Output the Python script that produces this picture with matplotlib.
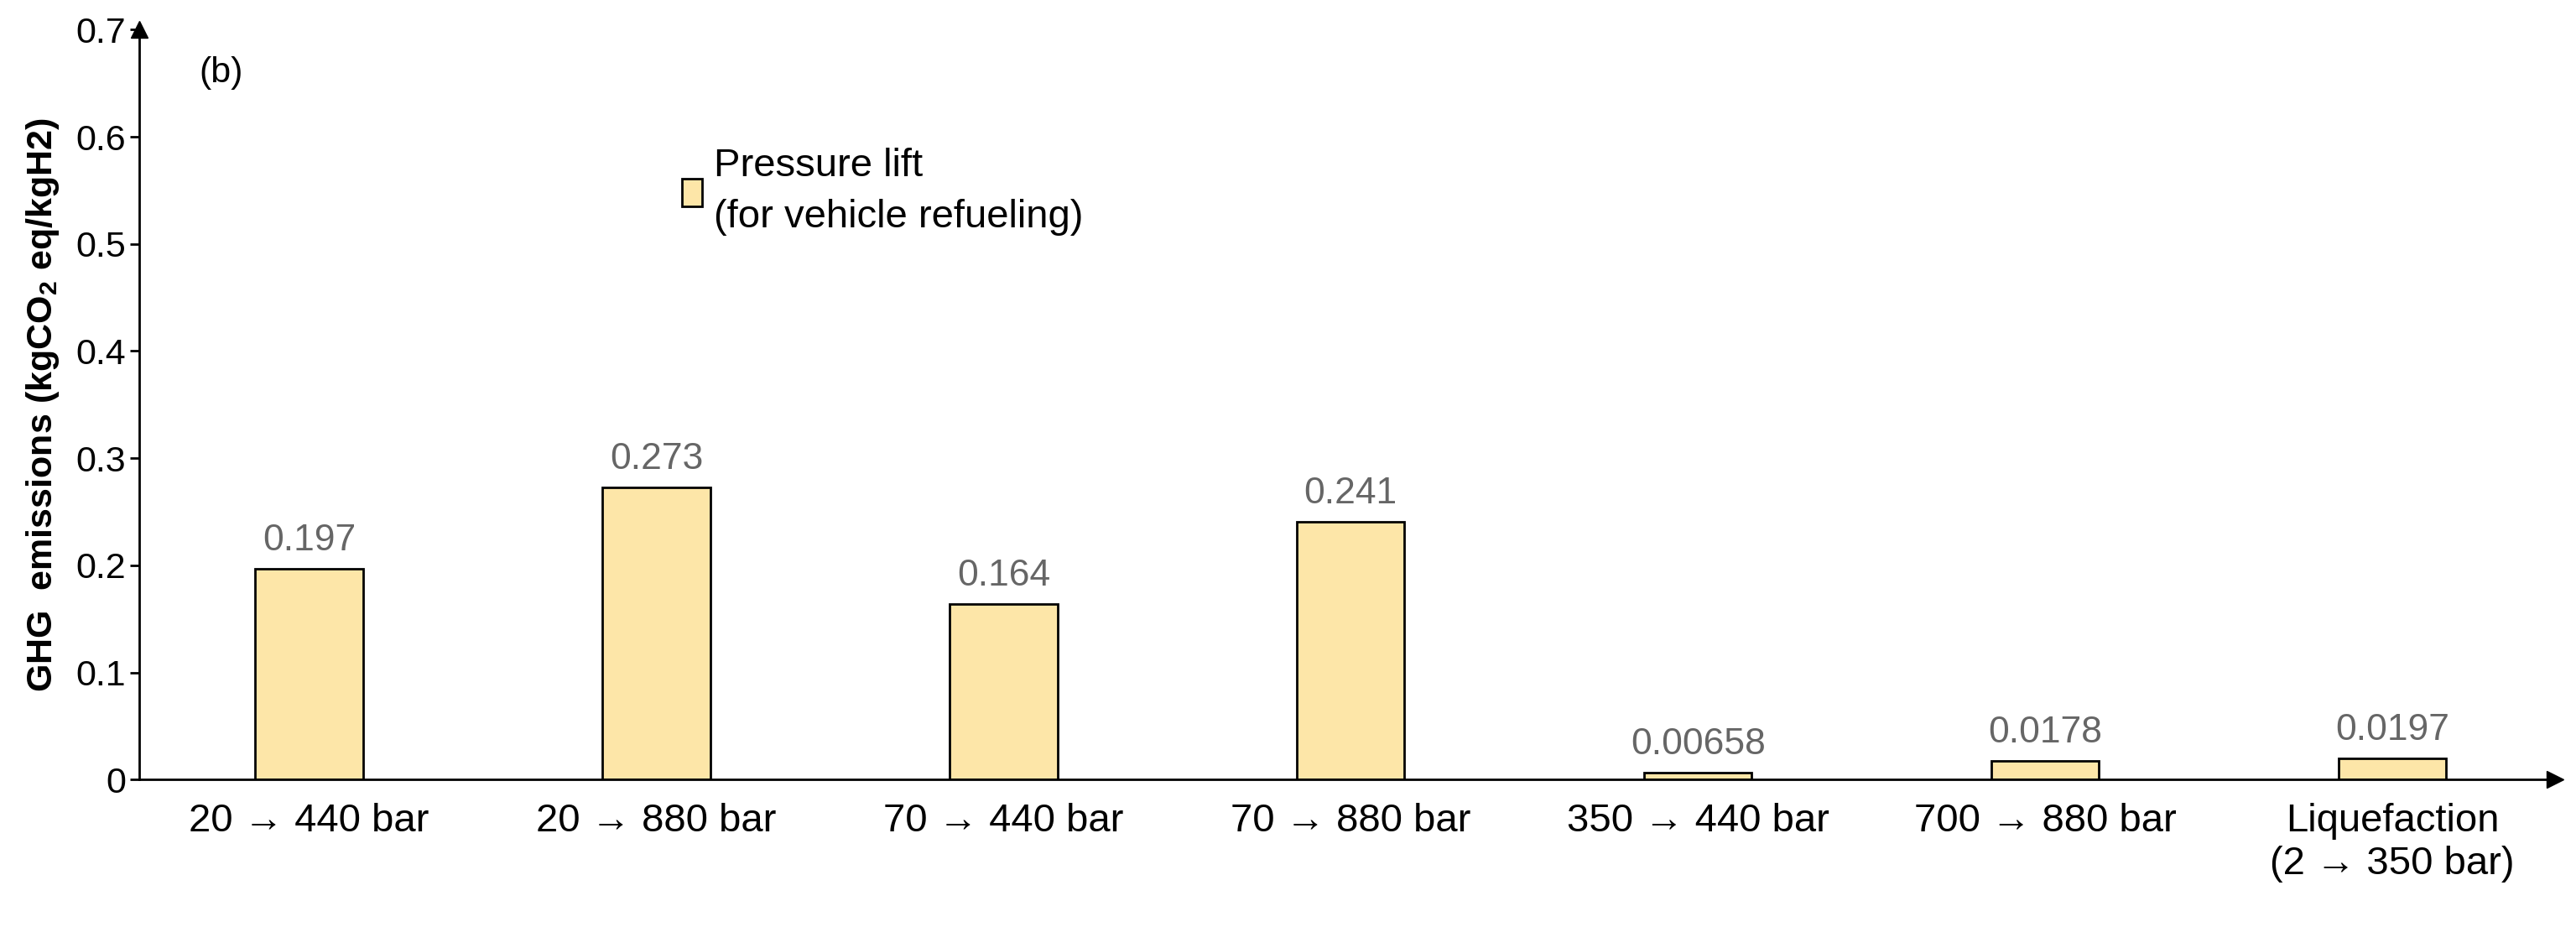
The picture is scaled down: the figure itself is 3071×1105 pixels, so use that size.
import matplotlib.pyplot as plt

plt.rcParams['font.family'] = ['Liberation Sans', 'DejaVu Sans']

categories = ["20 → 440 bar", "20 → 880 bar", "70 → 440 bar", "70 → 880 bar",
              "350 → 440 bar", "700 → 880 bar", "Liquefaction\n(2 → 350 bar)"]
values = [0.197, 0.273, 0.164, 0.241, 0.00658, 0.0178, 0.0197]
value_labels = ["0.197", "0.273", "0.164", "0.241", "0.00658", "0.0178", "0.0197"]

fig = plt.figure(figsize=(30.71, 11.05), dpi=100)
ax = fig.add_axes([0.054, 0.159, 0.938, 0.809])

x = list(range(len(categories)))
ax.bar(x, values, width=0.31, color="#FDE6A8", edgecolor="black", linewidth=2,
       label="Pressure lift\n(for vehicle refueling)")
for xi, v, t in zip(x, values, value_labels):
    ax.text(xi, v + 0.01, t, ha="center", va="bottom", fontsize=32, color="#666666")

ax.set_xlim(-0.49, 6.47)
ax.set_ylim(0, 0.7)
ax.set_yticks([0, 0.1, 0.2, 0.3, 0.4, 0.5, 0.6, 0.7])
ax.set_yticklabels(["0", "0.1", "0.2", "0.3", "0.4", "0.5", "0.6", "0.7"])
ax.set_xticks(x)
ax.set_xticklabels(categories, fontsize=34, linespacing=1.2)
ax.tick_params(axis="x", length=0, pad=20)
ax.tick_params(axis="y", labelsize=31, direction="out", length=8, width=2)
ax.spines["top"].set_visible(False)
ax.spines["right"].set_visible(False)
ax.spines["left"].set_linewidth(2)
ax.spines["bottom"].set_linewidth(2)
# arrow heads on the axes
ax.plot(1, 0, ">k", transform=ax.transAxes, clip_on=False, markersize=14)
ax.plot(0, 1, "^k", transform=ax.transAxes, clip_on=False, markersize=14)

ax.set_ylabel(r"GHG  emissions (kgCO$_\mathregular{2}$ eq/kgH2)", fontsize=31,
              fontweight="bold", labelpad=12)
ax.text(0.025, 0.93, "(b)", transform=ax.transAxes, fontsize=31)
ax.legend(loc="upper left", bbox_to_anchor=(0.21, 0.89), frameon=False, fontsize=34,
          handlelength=0.5, handleheight=0.7, handletextpad=0.3, labelspacing=0.6)
for t in ax.get_legend().get_texts():
    t.set_linespacing(1.5)

fig.savefig("out.png", dpi=100)
